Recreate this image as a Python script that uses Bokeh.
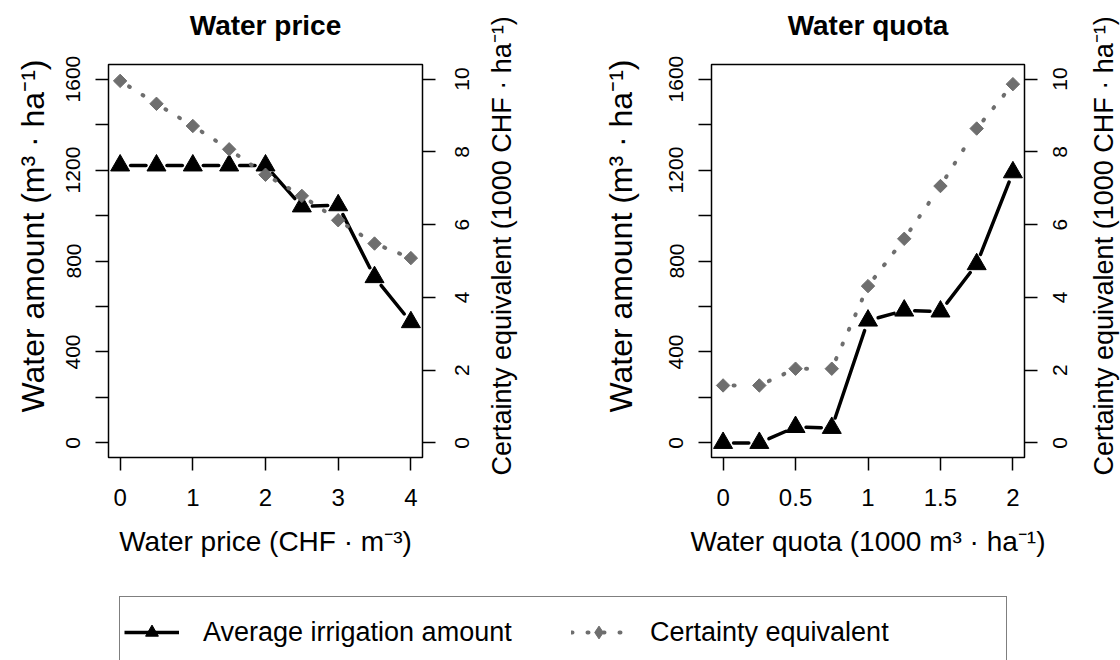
import math
from bokeh.plotting import figure
from bokeh.models import (Range1d, LinearAxis, FixedTicker, CustomJSTickFormatter,
                          Title, Legend, LegendItem, ColumnDataSource)
from bokeh.layouts import column, row
from bokeh.embed import file_html
from bokeh.resources import INLINE

# ---------------- data ----------------
price = [0, 0.5, 1, 1.5, 2, 2.5, 3, 3.5, 4]
price_water = [1220, 1220, 1220, 1220, 1220, 1040, 1045, 729, 531]
price_ce = [9.95, 9.32, 8.71, 8.07, 7.37, 6.79, 6.12, 5.48, 5.08]

quota = [0, 0.25, 0.5, 0.75, 1, 1.25, 1.5, 1.75, 2]
quota_water = [0, 0, 70, 66, 538, 582, 578, 786, 1190]
quota_ce = [1.58, 1.58, 2.04, 2.04, 4.31, 5.61, 7.06, 8.64, 9.86]

water_ticks = [0, 200, 400, 600, 800, 1000, 1200, 1400, 1600]
ce_ticks = [0, 2, 4, 6, 8, 10]
price_ticks = [0, 1, 2, 3, 4]
quota_ticks = [0, 0.5, 1, 1.5, 2]

titles = ["Water price", "Water quota"]
xlabels = ["Water price (CHF · m⁻³)", "Water quota (1000 m³ · ha⁻¹)"]
ylabel_left = "Water amount (m³ · ha⁻¹)"
ylabel_right = "Certainty equivalent (1000 CHF · ha⁻¹)"
series_labels = ["Average irrigation amount", "Certainty equivalent"]

# ---------------- style ----------------
FONT = "Liberation Sans"
BLACK = "#000000"
GRAY = "#6e6e6e"
W_RANGE = (-64, 1664)
CE_RANGE = (-0.4, 10.4)
FIG_H = 588
FRAME_TOP, FRAME_H = 64, 393
FRAME_BOTTOM = FIG_H - FRAME_TOP - FRAME_H
GAP = 10.5
YTICK_PX = 21
DIGIT_EM = 0.556   # advance width of a digit in Liberation Sans


def gapped(xs, ys, xr, yr, fw, fh, gap):
    sx = fw / (xr[1] - xr[0])
    sy = fh / (yr[1] - yr[0])
    out = dict(x0=[], y0=[], x1=[], y1=[])
    for i in range(len(xs) - 1):
        dx = xs[i + 1] - xs[i]
        dy = ys[i + 1] - ys[i]
        d = math.hypot(dx * sx, dy * sy)
        if d <= 2 * gap:
            continue
        f = gap / d
        out["x0"].append(xs[i] + dx * f)
        out["y0"].append(ys[i] + dy * f)
        out["x1"].append(xs[i + 1] - dx * f)
        out["y1"].append(ys[i + 1] - dy * f)
    return out


def base_axis(ax):
    ax.axis_line_color = None
    ax.major_tick_in = 0
    ax.major_tick_out = 13
    ax.major_tick_line_color = BLACK
    ax.major_tick_line_width = 1.5
    ax.minor_tick_in = 0
    ax.minor_tick_out = 0
    ax.major_label_text_font = FONT
    ax.major_label_text_color = BLACK
    ax.axis_label_text_font = FONT
    ax.axis_label_text_color = BLACK
    ax.axis_label_text_font_style = "normal"


def right_rotated_axis(ax, marks, rng, standoff):
    """Right axis with bottom-to-top tick labels centred on their tick marks."""
    base_axis(ax)
    sy = FRAME_H / (rng[1] - rng[0])
    # a rotated label starts at its anchor: shift anchors down by half a label
    anchors = [v - DIGIT_EM * YTICK_PX * len(str(v)) / 2 / sy for v in marks]
    ax.ticker = FixedTicker(ticks=anchors, minor_ticks=marks)
    ax.formatter = CustomJSTickFormatter(args=dict(labels=[str(v) for v in marks]),
                                         code="return labels[index];")
    ax.major_tick_line_color = None
    ax.minor_tick_out = 13
    ax.minor_tick_line_color = BLACK
    ax.minor_tick_line_width = 1.5
    ax.major_label_orientation = math.pi / 2
    ax.major_label_text_font_size = f"{YTICK_PX}px"
    ax.major_label_standoff = standoff


def make_panel(idx, xs, water, ce, xr, xticks, xcode, fig_w, frame_left, frame_w,
               left_lab_so, left_title_so, right_lab_so):
    p = figure(width=fig_w, height=FIG_H, x_range=Range1d(*xr), y_range=Range1d(*W_RANGE),
               output_backend="svg", toolbar_location=None,
               min_border_left=frame_left, min_border_right=fig_w - frame_left - frame_w,
               min_border_top=FRAME_TOP, min_border_bottom=FRAME_BOTTOM,
               background_fill_color="white", border_fill_color="white",
               outline_line_color=BLACK, outline_line_width=1.5)
    p.extra_y_ranges = {"ce": Range1d(*CE_RANGE)}
    p.grid.visible = False

    # bottom axis
    xa = p.xaxis[0]
    base_axis(xa)
    xa.ticker = FixedTicker(ticks=xticks)
    xa.formatter = CustomJSTickFormatter(code=xcode)
    xa.major_label_text_font_size = "24px"
    xa.major_label_standoff = 18
    xa.axis_label = xlabels[idx]
    xa.axis_label_text_font_size = "28px"
    xa.axis_label_standoff = 17

    # left axis (water amount); every second tick carries a label
    ya = p.yaxis[0]
    base_axis(ya)
    ya.ticker = FixedTicker(ticks=water_ticks)
    ya.formatter = CustomJSTickFormatter(
        code="return (tick % 400 === 0) ? tick.toFixed(0) : '';")
    ya.major_label_orientation = "vertical"
    ya.major_label_text_font_size = f"{YTICK_PX}px"
    ya.major_label_standoff = left_lab_so
    p.add_layout(Title(text=ylabel_left, align="left", offset=45, text_font=FONT,
                       text_font_style="normal", text_font_size="32px",
                       text_color=BLACK, standoff=left_title_so), "left")

    # right axis (certainty equivalent)
    rax = LinearAxis(y_range_name="ce")
    right_rotated_axis(rax, ce_ticks, CE_RANGE, right_lab_so)
    p.add_layout(rax, "right")

    # panel title as an unticked axis above the frame
    ta = LinearAxis(ticker=FixedTicker(ticks=[]), axis_label=titles[idx])
    base_axis(ta)
    ta.major_tick_out = 0
    ta.major_label_text_font_size = "0px"
    ta.axis_label_text_font_size = "28px"
    ta.axis_label_text_font_style = "bold"
    ta.axis_label_standoff = 24
    p.add_layout(ta, "above")

    # irrigation amount: black line (gapped, type "b") + triangles
    seg_w = ColumnDataSource(gapped(xs, water, xr, W_RANGE, frame_w, FRAME_H, GAP))
    p.segment(x0="x0", y0="y0", x1="x1", y1="y1", source=seg_w,
              line_color=BLACK, line_width=3.5, line_cap="round")
    p.scatter(xs, water, marker="triangle", size=19, color=BLACK)

    # certainty equivalent: gray dotted line + diamonds
    seg_c = ColumnDataSource(gapped(xs, ce, xr, CE_RANGE, frame_w, FRAME_H, GAP))
    p.segment(x0="x0", y0="y0", x1="x1", y1="y1", source=seg_c, y_range_name="ce",
              line_color=GRAY, line_width=4, line_dash="1 15", line_cap="round")
    p.scatter(xs, ce, marker="square", angle=math.pi / 4, size=9.5, color=GRAY,
              y_range_name="ce")
    return p


def label_strip(width, border_left, text):
    """Narrow strip carrying the right-hand axis title, reading bottom-to-top."""
    s = figure(width=width, height=FIG_H, x_range=Range1d(0, 1), y_range=Range1d(0, 1),
               output_backend="svg", toolbar_location=None, x_axis_type=None, y_axis_type=None,
               min_border_left=border_left, min_border_right=0,
               min_border_top=FRAME_TOP, min_border_bottom=FRAME_BOTTOM,
               outline_line_color=None, background_fill_color="white",
               border_fill_color="white")
    s.grid.visible = False
    s.add_layout(Title(text=text, align="left", offset=-18, text_font=FONT,
                       text_font_style="normal", text_font_size="27px",
                       text_color=BLACK, standoff=0), "left")
    return s


p1 = make_panel(0, price, price_water, price_ce, (-0.16, 4.16), price_ticks,
                "return tick.toFixed(0);", 480, 108, 314, 15, 25, 27)
s1 = label_strip(80, 36, ylabel_right)
p2 = make_panel(1, quota, quota_water, quota_ce, (-0.08, 2.08), quota_ticks,
                "return String(tick);", 517, 151, 313, 15, 55, 23)
s2 = label_strip(43, 41, ylabel_right)

# ---------------- legend strip ----------------
p3 = figure(width=1120, height=72, x_range=Range1d(0, 1), y_range=Range1d(0, 1),
            output_backend="svg", toolbar_location=None, x_axis_type=None, y_axis_type=None,
            min_border=0, outline_line_color=None,
            background_fill_color="white", border_fill_color="white")
p3.grid.visible = False
off = dict(x=[-5, -4], y=[-5, -4])   # legend-only renderers, kept outside the view
l1 = p3.line(x=off["x"], y=off["y"], line_color=BLACK, line_width=3.5)
m1 = p3.scatter(x=off["x"], y=off["y"], marker="triangle", color=BLACK)
l2 = p3.line(x=off["x"], y=off["y"], line_color=GRAY, line_width=4, line_dash="1 15",
             line_cap="round")
m2 = p3.scatter(x=off["x"], y=off["y"], marker="diamond", color=GRAY)
legend = Legend(items=[LegendItem(label=series_labels[0], renderers=[l1, m1]),
                       LegendItem(label=series_labels[1], renderers=[l2, m2])],
                orientation="horizontal", location=(119, -8), margin=0, padding=4,
                spacing=16, glyph_width=55, glyph_height=32, label_standoff=24,
                label_width=352, label_height=62,
                label_text_font=FONT, label_text_font_size="27px", label_text_color=BLACK,
                border_line_color=BLACK, border_line_width=1.5,
                background_fill_color="white", background_fill_alpha=1.0)
p3.add_layout(legend, "center")

layout = column(row(p1, s1, p2, s2), p3)
open("out.html", "w").write(file_html(layout, INLINE))
